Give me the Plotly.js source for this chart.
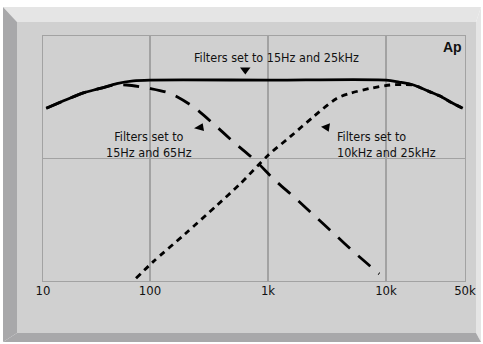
<!DOCTYPE html>
<html>
<head>
<meta charset="utf-8">
<script src="https://cdn.plot.ly/plotly-3.0.1.min.js"></script>
<style>
html,body{margin:0;padding:0;background:#ffffff;}
#chart{width:483px;height:344px;}
</style>
</head>
<body>
<div id="chart"></div>
<script>
// ---- data (frequency in Hz, relative level, 0..100 of plot height) ----
const freqFull = [13.2, 19.7, 27.2, 37.7, 52.3, 72.2, 100, 1000, 10000, 12900, 16000, 19400, 23600, 28700, 34800, 44700];
const levelFull = [70.5, 74.1, 76.8, 78.6, 80.6, 81.7, 82, 82, 82, 81.2, 80.4, 79.0, 77.2, 75.5, 73.2, 70.5];

const freqLow = [13.2, 19.7, 27.2, 37.7, 50.5, 63.5, 100, 148, 233, 355, 525, 776, 1146, 1671, 2467, 3645, 5383, 8770];
const levelLow = [70.5, 74.1, 76.8, 78.6, 80.0, 80.0, 78.6, 76.6, 71.1, 63.6, 56.2, 49.3, 41.1, 34.2, 26.7, 19.2, 11.7, 2.9];

const freqHigh = [76.1, 106.6, 198, 367, 579, 1006, 1535, 2421, 3818, 4955, 7313, 10820, 13500, 17000, 19400, 23600, 28700, 34800, 44700];
const levelHigh = [1.1, 7.9, 19.2, 30.8, 39.6, 51.4, 58.8, 67.0, 74.5, 76.6, 78.6, 80.0, 80.2, 80.0, 79.0, 77.2, 75.5, 73.2, 70.5];

const tickText = ["10", "100", "1k", "10k", "50k"];
const xRangeLog = [1.093, 4.6695];
const tickVals = [Math.pow(10, xRangeLog[0]), 100, 1000, 10000, Math.pow(10, xRangeLog[1])];

// ---- layout helpers (pixel -> paper) ----
const L = 43, R = 465, T = 36, B = 281;
const px = x => (x - L) / (R - L);
const py = y => (B - y) / (B - T);
const poly = pts => 'M ' + pts.map(p => px(p[0]).toFixed(5) + ',' + py(p[1]).toFixed(5)).join(' L ') + ' Z';

const NARROW = '"DejaVu Sans Condensed", "Liberation Sans Narrow", sans-serif';
const txtFont = {family: NARROW, size: 12.5, color: '#111111'};

const shapeBase = {xref: 'paper', yref: 'paper', layer: 'below', line: {width: 0}};
const shapes = [
  Object.assign({}, shapeBase, {type: 'path', path: poly([[3,7],[481,7],[476,22],[17,22]]), fillcolor: '#e5e5e5'}),
  Object.assign({}, shapeBase, {type: 'path', path: poly([[481,7],[481,342],[476,333],[476,22]]), fillcolor: '#e5e5e5'}),
  Object.assign({}, shapeBase, {type: 'path', path: poly([[3,7],[17,22],[17,333],[3,342]]), fillcolor: '#a8a8aa'}),
  Object.assign({}, shapeBase, {type: 'path', path: poly([[17,333],[476,333],[481,342],[3,342]]), fillcolor: '#a8a8aa'}),
  Object.assign({}, shapeBase, {type: 'path', path: poly([[17,22],[476,22],[476,333],[17,333]]), fillcolor: '#d0d0d0'}),
  // pointer triangles
  {type: 'path', xref: 'paper', yref: 'paper', layer: 'above', line: {width: 0}, fillcolor: '#000000',
   path: poly([[240,67.5],[250.5,67.5],[245.3,74.5]])},
  {type: 'path', xref: 'paper', yref: 'paper', layer: 'above', line: {width: 0}, fillcolor: '#000000',
   path: poly([[194,128.3],[202.7,123.3],[204,131]])},
  {type: 'path', xref: 'paper', yref: 'paper', layer: 'above', line: {width: 0}, fillcolor: '#000000',
   path: poly([[321,126.7],[330,123.3],[328.7,131.7]])}
];

const ann = (text, x, y, xanchor, align, font) => ({
  text: text, xref: 'paper', yref: 'paper', x: px(x), y: py(y),
  xanchor: xanchor, yanchor: 'middle', align: align, showarrow: false, font: font || txtFont, borderpad: 0
});

const annotations = [
  ann('Filters set to 15Hz and 25kHz', 276.5, 57.3, 'center', 'center'),
  ann('Filters set to<br>15Hz and 65Hz', 149, 144, 'center', 'center'),
  ann('Filters set to<br>10kHz and 25kHz', 336, 144, 'left', 'left'),
  ann('<b>Ap</b>', 452.2, 46.8, 'center', 'center', {family: '"Liberation Sans", Arial, sans-serif', size: 14, color: '#111111'})
];

const lineBase = {mode: 'lines', hoverinfo: 'skip', showlegend: false, type: 'scatter'};
const traces = [
  Object.assign({}, lineBase, {x: freqLow, y: levelLow, name: '15Hz and 65Hz',
    line: {color: '#000000', width: 2.8, dash: '16px,11px', shape: 'spline', smoothing: 0.8}}),
  Object.assign({}, lineBase, {x: freqHigh, y: levelHigh, name: '10kHz and 25kHz',
    line: {color: '#000000', width: 2.8, dash: '6px,5px', shape: 'spline', smoothing: 0.8}}),
  Object.assign({}, lineBase, {x: freqFull, y: levelFull, name: '15Hz and 25kHz',
    line: {color: '#000000', width: 2.8, shape: 'spline', smoothing: 0.8}})
];

const layout = {
  width: 483, height: 344,
  margin: {l: L, r: 483 - R, t: T, b: 344 - B, pad: 0},
  paper_bgcolor: '#ffffff',
  plot_bgcolor: 'rgba(0,0,0,0)',
  showlegend: false,
  xaxis: {
    type: 'log', range: xRangeLog, tickmode: 'array', tickvals: tickVals, ticktext: tickText,
    showgrid: true, gridcolor: '#a2a2a2', gridwidth: 1.3,
    showline: true, linecolor: '#a2a2a2', linewidth: 1.3, mirror: true,
    ticks: '', zeroline: false, fixedrange: true, ticklabelstandoff: -3,
    tickfont: {family: NARROW, size: 13, color: '#111111'}
  },
  yaxis: {
    range: [0, 100], tickmode: 'array', tickvals: [50], showticklabels: false,
    showgrid: true, gridcolor: '#a2a2a2', gridwidth: 1.3,
    showline: true, linecolor: '#a2a2a2', linewidth: 1.3, mirror: true,
    ticks: '', zeroline: false, fixedrange: true
  },
  shapes: shapes,
  annotations: annotations
};

Plotly.newPlot('chart', traces, layout, {displayModeBar: false, staticPlot: true});
</script>
</body>
</html>
